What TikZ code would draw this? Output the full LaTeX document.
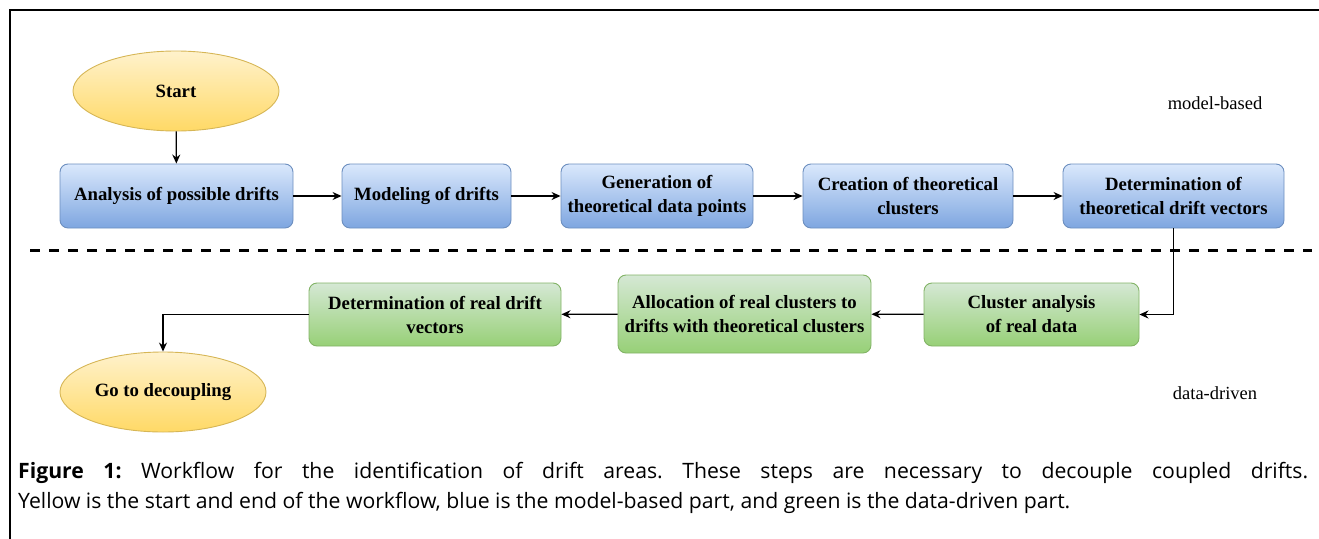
\documentclass[tikz,border=0pt]{standalone}
\usepackage{fontspec}
\setmainfont{Liberation Serif}
\newfontfamily\capfont{Open Sans}
\usetikzlibrary{arrows.meta,shapes.geometric,calc}
\definecolor{bluetop}{HTML}{DAE8FC}
\definecolor{bluebot}{HTML}{7EA6E0}
\definecolor{bluedraw}{HTML}{6C8EBF}
\definecolor{greentop}{HTML}{D5E8D4}
\definecolor{greenbot}{HTML}{97D077}
\definecolor{greendraw}{HTML}{82B366}
\definecolor{yeltop}{HTML}{FFF2CC}
\definecolor{yelbot}{HTML}{FFD966}
\definecolor{yeldraw}{HTML}{D6B656}
\tikzset{
  boxbase/.style={rectangle, rounded corners=8pt, line width=0.9pt, align=center,
    inner sep=1pt, font=\fontsize{18.75}{24}\selectfont\bfseries},
  bluebox/.style={boxbase, draw=bluedraw, top color=bluetop, bottom color=bluebot},
  greenbox/.style={boxbase, draw=greendraw, top color=greentop, bottom color=greenbot},
  terminal/.style={ellipse, draw=yeldraw, line width=0.9pt, top color=yeltop, bottom color=yelbot,
    minimum width=206pt, minimum height=80pt, inner sep=0pt, font=\fontsize{18.75}{22}\selectfont\bfseries},
  flow/.style={line width=1.3pt, -{Stealth[length=9pt,width=8pt]}},
  sidelabel/.style={font=\fontsize{18.5}{20}\selectfont, inner sep=0pt}
}
\begin{document}
\begin{tikzpicture}[x=1pt,y=-1pt]
\useasboundingbox (0,0) rectangle (1319,538);
% frame
\draw[line width=2pt] (10,540) -- (10,10) -- (1321,10);
% top row
\node[terminal] (start) at (176,91) {Start};
\node[bluebox, minimum width=233pt, minimum height=64pt] (b1) at (176.5,196) {Analysis of possible drifts};
\node[bluebox, minimum width=169pt, minimum height=64pt] (b2) at (426.5,196) {Modeling of drifts};
\node[bluebox, minimum width=192pt, minimum height=64pt] (b3) at (657,196) {Generation of\\theoretical data points};
\node[bluebox, minimum width=210pt, minimum height=64pt] (b4) at (908,196) {Creation of theoretical\\clusters};
\node[bluebox, minimum width=221pt, minimum height=64pt] (b5) at (1173.5,196) {Determination of\\theoretical drift vectors};
% bottom row
\node[greenbox, minimum width=215pt, minimum height=63pt] (g1) at (1031.5,314.5) {Cluster analysis\\of real data};
\node[greenbox, minimum width=253pt, minimum height=78pt] (g2) at (744.5,314) {Allocation of real clusters to\\drifts with theoretical clusters};
\node[greenbox, minimum width=252pt, minimum height=63pt] (g3) at (435,314.5) {Determination of real drift\\vectors};
\node[terminal] (goto) at (163,392) {Go to decoupling};
% labels
\node[sidelabel] (mb) at (1215,103) {model-based};
\node[sidelabel] (dd) at (1215,393) {data-driven};
% dashed separator
\coordinate (dl) at (30,250);
\coordinate (dr) at (1312,250);
\draw[line width=3pt, dash pattern=on 10pt off 9pt] (dl) -- (dr);
% connectors
\draw[flow] (start) -- (b1);
\draw[flow] (b1) -- (b2);
\draw[flow] (b2) -- (b3);
\draw[flow] (b3) -- (b4);
\draw[flow] (b4) -- (b5);
\draw[flow] (b5.south) |- (g1.east);
\draw[flow] (g1) -- (g2);
\draw[flow] (g2) -- (g3);
\draw[flow] (g3.west) -| (goto.north);
% caption
\node[anchor=north west, inner sep=0pt, text width=1290pt, align=justify,
  font=\capfont\fontsize{21.2}{30}\selectfont\frenchspacing] (cap) at (18,462)
  {\textbf{Figure 1:} Workflow for the identification of drift areas. These steps are necessary to decouple coupled drifts.\linebreak Yellow is the start and end of the workflow, blue is the model-based part, and green is the data-driven part.};
\end{tikzpicture}
\end{document}
